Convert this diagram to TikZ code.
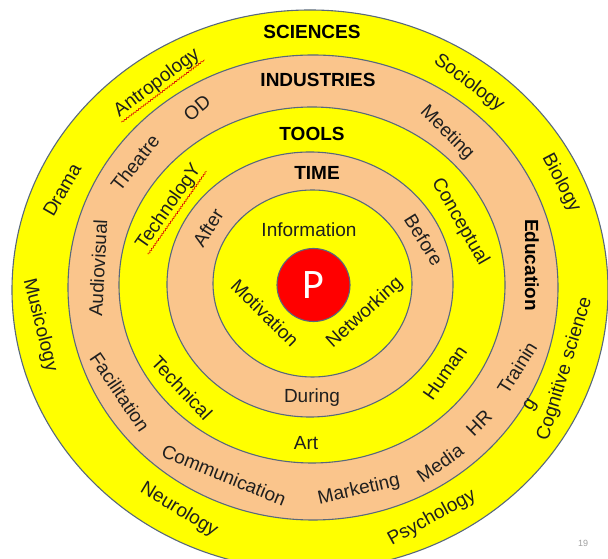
\documentclass[tikz,border=0pt]{standalone}
\usepackage{fontspec}
\setmainfont{Liberation Sans}
\newfontfamily\calfont{Carlito}
\usetikzlibrary{decorations.pathmorphing}
\definecolor{ringyellow}{RGB}{255,255,0}
\definecolor{ringtan}{RGB}{250,197,140}
\definecolor{ringline}{RGB}{88,104,124}
\definecolor{pagegray}{RGB}{160,160,160}
\begin{document}
\begin{tikzpicture}[x=1pt,y=1pt,
  ring/.style={draw=ringline, line width=1.1pt},
  lbl/.style={font=\fontsize{19}{19}\selectfont, text=black!88, inner sep=1pt},
  head/.style={font=\fontsize{19}{19}\selectfont\bfseries, text=black, inner sep=1pt},
  squiggle/.style={draw=red!85!black, line width=0.6pt, decorate,
    decoration={snake, amplitude=0.7pt, segment length=3pt}}]
\useasboundingbox (0,0) rectangle (608,559);
\fill[white] (0,0) rectangle (608,559);
% rings
\path[ring, fill=ringyellow] (310,269) ellipse [x radius=298, y radius=280];
\path[ring, fill=ringtan] (313,271.5) ellipse [x radius=245, y radius=232.5];
\path[ring, fill=ringyellow] (312,274) ellipse [x radius=193, y radius=178];
\path[ring, fill=ringtan] (310,274.5) ellipse [x radius=143, y radius=132.5];
\path[ring, fill=ringyellow] (312.5,275.5) ellipse [x radius=99.5, y radius=93.5];
\node[ring, fill=red, circle, minimum size=73pt, inner sep=0pt,
  text=white, font=\calfont\fontsize{42}{42}\selectfont] (p) at (313.5,274) {P};
% sciences ring
\node[head] (sciences) at (312,527) {SCIENCES};
\node[lbl, rotate=37] (antro) at (157,476) {Antropology};
\draw[squiggle] (antro.south west) -- (antro.south east);
\node[lbl, rotate=-37] (socio) at (469,476) {Sociology};
\node[lbl, rotate=60] (drama) at (62,369) {Drama};
\node[lbl, rotate=-62] (bio) at (561,376) {Biology};
\node[lbl, rotate=-76] (musico) at (40,234) {Musicology};
\node[lbl, rotate=73] (cogsci) at (565,190) {Cognitive science};
\node[lbl, rotate=-31] (neuro) at (179,49) {Neurology};
\node[lbl, rotate=29] (psycho) at (432,41) {Psychology};
% industries ring
\node[head] (industries) at (318,479) {INDUSTRIES};
\node[lbl, rotate=40] (od) at (197,451) {OD};
\node[lbl, rotate=52] (theatre) at (135,396) {Theatre};
\node[lbl, rotate=87] (audio) at (98,291) {Audiovisual};
\node[lbl, rotate=-56] (facil) at (120,167) {Facilitation};
\node[lbl, rotate=-22] (comm) at (224,84) {Communication};
\node[lbl, rotate=13] (market) at (359,69) {Marketing};
\node[lbl, rotate=35] (media) at (440,96) {Media};
\node[lbl, rotate=45] (hr) at (479,136) {HR};
\node[lbl, rotate=58] (train) at (517,191) {Trainin};
\node[lbl, rotate=58] (traing) at (531,154) {g};
\node[head, rotate=-90] (edu) at (532,294) {Education};
\node[lbl, rotate=-45] (meeting) at (447,426) {Meeting};
% tools ring
\node[head] (tools) at (312,425) {TOOLS};
\node[lbl, rotate=55] (techno) at (169,352) {TechnologY};
\draw[squiggle] (techno.south west) -- (techno.south east);
\node[lbl, rotate=-47] (technical) at (182,171) {Technical};
\node[lbl] (art) at (306,116) {Art};
\node[lbl, rotate=55] (human) at (445,186) {Human};
\node[lbl, rotate=-60] (concept) at (460,337) {Conceptual};
% time ring
\node[head] (time) at (317,386) {TIME};
\node[lbl, rotate=58] (after) at (208,331) {After};
\node[lbl, rotate=-58] (before) at (424,319) {Before};
\node[lbl] (during) at (312,161) {During};
% inner ring
\node[lbl] (info) at (309,329) {Information};
\node[lbl, rotate=-45] (motiv) at (265,246) {Motivation};
\node[lbl, rotate=42] (network) at (365,246) {Networking};
% page number
\node[text=pagegray, font=\fontsize{9}{9}\selectfont] (pagenum) at (583,16) {19};
\end{tikzpicture}
\end{document}
